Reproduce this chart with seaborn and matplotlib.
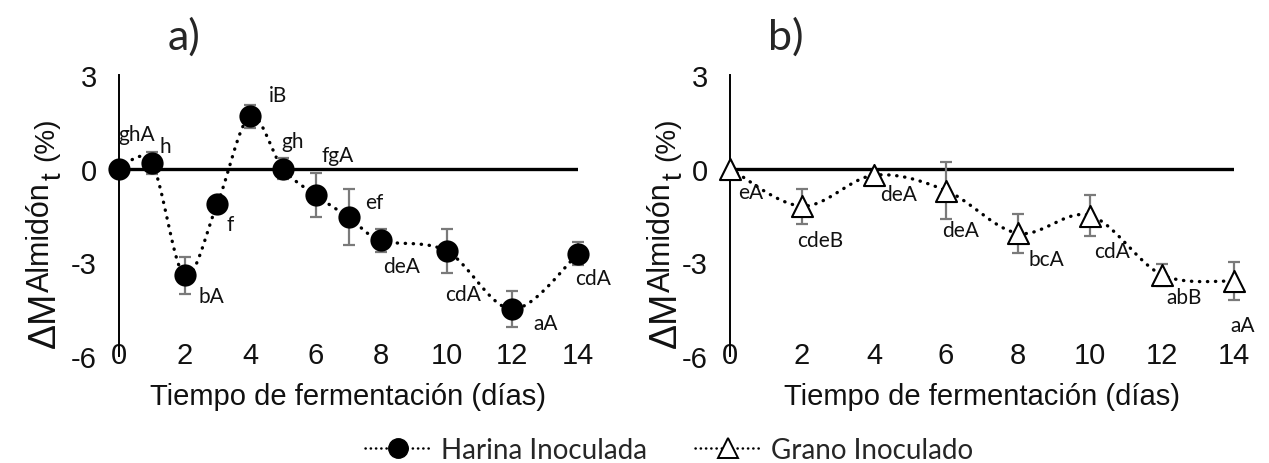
import numpy as np
import pandas as pd
import matplotlib
matplotlib.use("Agg")
import matplotlib.pyplot as plt
import seaborn as sns
from matplotlib.lines import Line2D

# ---------------- data ----------------
days_a = [0, 1, 2, 3, 4, 5, 6, 7, 8, 10, 12, 14]
harina = [0.0, 0.18, -3.42, -1.12, 1.68, 0.0, -0.85, -1.55, -2.30, -2.64, -4.50, -2.72]
harina_err = [0.0, 0.34, 0.60, 0.0, 0.37, 0.34, 0.70, 0.90, 0.38, 0.70, 0.57, 0.38]
letters_a = ["ghA", "h", "bA", "f", "iB", "gh", "fgA", "ef", "deA", "cdA", "aA", "cdA"]

days_b = [0, 2, 4, 6, 8, 10, 12, 14]
grano = [0.0, -1.20, -0.21, -0.70, -2.07, -1.50, -3.40, -3.60]
grano_err = [0.0, 0.56, 0.0, 0.90, 0.62, 0.65, 0.35, 0.61]
letters_b = ["eA", "cdeB", "deA", "deA", "bcA", "cdA", "abB", "aA"]

x_ticks = [0, 2, 4, 6, 8, 10, 12, 14]
y_ticks = [-6, -3, 0, 3]
series_names = ["Harina Inoculada", "Grano Inoculado"]
panel_titles = ["a)", "b)"]
x_title = "Tiempo de fermentación (días)"

# label offsets (points) - layout only
off_a = [(12.5, 25), (9.7, 12.6), (19.4, -14.6), (9, -14.6), (19.9, 15.5), (7, 20.2),
         (15.8, 29), (18.9, 11), (14.9, -18.2), (11.8, -31), (23.6, -9.7), (10.6, -17.5)]
off_b = [(14.8, -16.8), (13, -24.7), (17.6, -13.3), (10.4, -28.3), (20.7, -18.6),
         (15.6, -25.4), (15.6, -15.7), (6, -31.9)]

sns.set_theme(style="white")
plt.rcParams["font.family"] = ["Liberation Sans", "DejaVu Sans"]
ANN_FONT = ["Lato", "DejaVu Sans"]

W, H = 1269, 464
fig = plt.figure(figsize=(W / 100, H / 100), dpi=100)


def fx(px):
    return px / W


def fy(py):
    return 1 - py / H


def smooth(x, y, n=24):
    pts = np.column_stack([np.asarray(x, float), np.asarray(y, float)])
    P = np.vstack([pts[0], pts, pts[-1]])
    out = []
    for i in range(1, len(P) - 2):
        p0, p1, p2, p3 = P[i - 1], P[i], P[i + 1], P[i + 2]
        c1 = p1 + (p2 - p0) / 6
        c2 = p2 - (p3 - p1) / 6
        t = np.linspace(0, 1, n)[:, None]
        seg = (1 - t) ** 3 * p1 + 3 * (1 - t) ** 2 * t * c1 + 3 * (1 - t) * t ** 2 * c2 + t ** 3 * p2
        out.append(seg if i == 1 else seg[1:])
    return np.vstack(out)


def panel(rect, days, vals, errs, letters, offs, marker, face, size):
    ax = fig.add_axes(rect)
    ax.set_xlim(0, 14)
    ax.set_ylim(-6, 3)
    df = pd.DataFrame({"day": days, "val": vals, "err": errs})
    sm = smooth(df["day"], df["val"])
    ax.plot(sm[:, 0], sm[:, 1], color="black", lw=2.4,
            ls=(0, (0.1, 2.3)), dash_capstyle="round", zorder=3, clip_on=False)
    ax.axhline(0, xmin=0, xmax=1, color="black", lw=2.4, zorder=2)
    errmask = df["err"] > 0
    ax.errorbar(df["day"][errmask], df["val"][errmask], yerr=df["err"][errmask], fmt="none",
                ecolor="#7a7a7a", elinewidth=1.6, capsize=4.5, capthick=1.6, zorder=4,
                clip_on=False)
    sns.scatterplot(data=df, x="day", y="val", ax=ax, marker=marker, s=size,
                    color=face, edgecolor="black", linewidth=1.5, zorder=5,
                    clip_on=False, legend=False)
    for d, v, lab, (ox, oy) in zip(days, vals, letters, offs):
        ax.annotate(lab, (d, v), xytext=(ox, oy), textcoords="offset points",
                    ha="center", va="center", fontsize=15, family=ANN_FONT, color="#111111")
    for s in ["top", "right", "bottom"]:
        ax.spines[s].set_visible(False)
    ax.spines["left"].set_color("black")
    ax.spines["left"].set_linewidth(1.4)
    ax.set_xticks(x_ticks)
    ax.set_yticks(y_ticks)
    ax.set_xticklabels([str(t) for t in x_ticks])
    ax.set_yticklabels([str(t) for t in y_ticks])
    ax.tick_params(axis="x", length=0, pad=-11, labelsize=21, colors="#111111")
    ax.tick_params(axis="y", length=0, pad=16, labelsize=21, colors="#111111")
    ax.set_xlabel(x_title, fontsize=21, color="#111111")
    ax.xaxis.set_label_coords(0.5, -0.142)
    ax.xaxis.label.set_va("center")
    ax.set_ylabel("")
    ax.set_facecolor("none")
    ax.grid(False)
    return ax


axa = panel([fx(119), fy(357), 459 / W, 281 / H], days_a, harina, harina_err,
            letters_a, off_a, "o", "black", 210)
axb = panel([fx(730), fy(357), 504 / W, 281 / H], days_b, grano, grano_err,
            letters_b, off_b, "^", "white", 230)


def ylabel(x0):
    kw = dict(rotation=90, ha="center", va="bottom", color="#111111")
    fig.text(fx(x0), fy(348), "ΔM", fontsize=27, **kw)
    fig.text(fx(x0 - 4), fy(292), "Almidón", fontsize=22, **kw)
    fig.text(fx(x0 + 9), fy(180), "t", fontsize=20, **kw)
    fig.text(fx(x0 + 1), fy(161), "(%)", fontsize=20, **kw)


ylabel(45)
ylabel(666)

fig.text(fx(184), fy(37), panel_titles[0], fontsize=31, family=ANN_FONT, ha="center", va="center")
fig.text(fx(786), fy(37), panel_titles[1], fontsize=31, family=ANN_FONT, ha="center", va="center")

handles = [
    Line2D([], [], color="black", lw=1.8, ls=(0, (0.1, 2.0)), dash_capstyle="round",
           marker="o", markersize=14, markerfacecolor="black", markeredgecolor="black"),
    Line2D([], [], color="black", lw=1.8, ls=(0, (0.1, 2.0)), dash_capstyle="round",
           marker="^", markersize=14, markerfacecolor="white", markeredgecolor="black",
           markeredgewidth=1.4),
]
fig.legend(handles, series_names, loc="center", bbox_to_anchor=(fx(669), fy(451)),
           ncol=2, frameon=False, prop={"family": ANN_FONT, "size": 20},
           handlelength=2.4, handletextpad=0.35, columnspacing=1.7, numpoints=1)

fig.savefig("out.png", dpi=100)
